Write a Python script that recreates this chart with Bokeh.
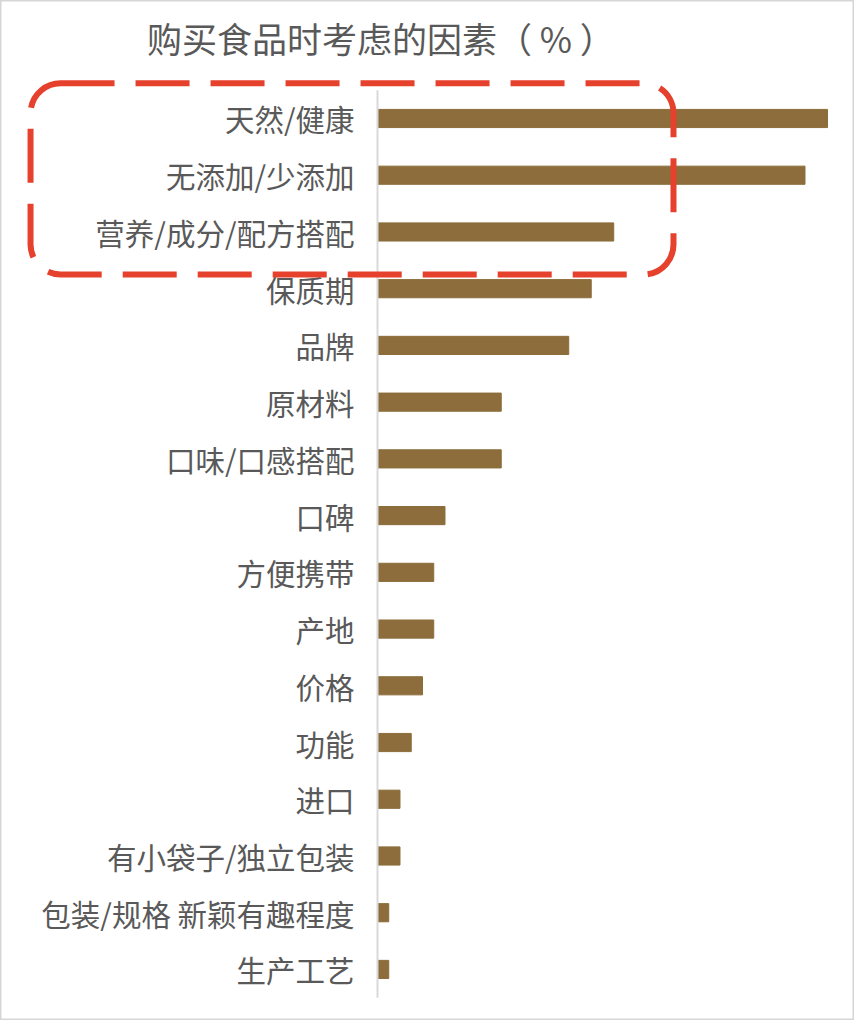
from bokeh.plotting import figure
from bokeh.models import Range1d, BoxAnnotation, ColumnDataSource
from bokeh.core.properties import value
from bokeh.embed import file_html
from bokeh.resources import INLINE

title_text = "购买食品时考虑的因素（ % ）"
categories = ["天然/健康", "无添加/少添加", "营养/成分/配方搭配", "保质期", "品牌", "原材料",
              "口味/口感搭配", "口碑", "方便携带", "产地", "价格", "功能", "进口",
              "有小袋子/独立包装", "包装/规格 新颖有趣程度", "生产工艺"]
values = [40, 38, 21, 19, 17, 11, 11, 6, 5, 5, 4, 3, 2, 2, 1, 1]
highlight_count = 3

BAR_COLOR = "#8C6D3B"
TEXT_COLOR = "#595959"
FONT = "Noto Sans CJK SC"

pos = list(range(len(categories)))
src = ColumnDataSource(dict(cat=categories, val=values, pos=pos))

p = figure(width=854, height=1020, output_backend="svg", toolbar_location=None,
           x_range=Range1d(-33.51, 42.4), y_range=Range1d(15.90, -2.08),
           min_border=0)
p.axis.visible = False
p.grid.visible = False
p.outline_line_color = "#D6D6D6"
p.outline_line_width = 2
p.background_fill_color = "white"

# bars
p.hbar(y="pos", left=0, right="val", height=0.32, color=BAR_COLOR, source=src)

# vertical axis line
p.segment(x0=[0], y0=[-0.5], x1=[0], y1=[len(categories) - 0.5],
          line_color="#D9D9D9", line_width=2)

# category labels
p.text(x=0, y="pos", text="cat", source=src, x_offset=-23,
       text_align="right", text_baseline="middle",
       text_font=value(FONT), text_font_size="29.5px", text_color=TEXT_COLOR)

# title
p.text(x=[0.3], y=[-1.43], text=[title_text], text_align="center",
       text_baseline="middle", text_font=value(FONT), text_font_size="35px",
       text_color=TEXT_COLOR)

# highlight box around the top categories
box = BoxAnnotation(left=-30.84, right=26.31, top=-0.62, bottom=highlight_count - 1 + 0.75,
                    fill_alpha=0, line_color="#E5412D", line_alpha=1.0, line_width=6,
                    line_dash="54 21", border_radius=30, level="overlay")
p.add_layout(box)

open("out.html", "w").write(file_html(p, INLINE))
